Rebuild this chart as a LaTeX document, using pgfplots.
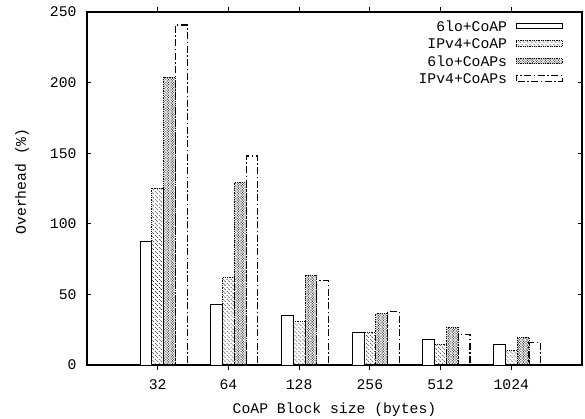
\documentclass[border=0pt]{standalone}
\usepackage{pgfplots}
\pgfplotsset{compat=1.18}
\usepackage{fontspec}
\setmainfont{Liberation Mono}
\usetikzlibrary{patterns,calc}
\pgfdeclarepatternformonly{densecross}{\pgfqpoint{-1pt}{-1pt}}{\pgfqpoint{4pt}{4pt}}{\pgfqpoint{2.6pt}{2.6pt}}{%
  \pgfsetlinewidth{0.35pt}%
  \pgfpathmoveto{\pgfqpoint{0pt}{0pt}}\pgfpathlineto{\pgfqpoint{2.61pt}{2.61pt}}%
  \pgfpathmoveto{\pgfqpoint{0pt}{2.6pt}}\pgfpathlineto{\pgfqpoint{2.61pt}{-0.01pt}}%
  \pgfusepath{stroke}}
\pgfdeclarepatternformonly{sparsedots}{\pgfqpoint{-1pt}{-1pt}}{\pgfqpoint{5pt}{5pt}}{\pgfqpoint{4pt}{4pt}}{%
  \pgfpathcircle{\pgfqpoint{0pt}{0pt}}{0.45pt}%
  \pgfpathcircle{\pgfqpoint{2pt}{2pt}}{0.45pt}%
  \pgfpathcircle{\pgfqpoint{1pt}{3pt}}{0.35pt}%
  \pgfusepath{fill}}
\newcommand\cfont{\fontsize{14.8}{17}\selectfont}
\pgfplotsset{boxlegend/.style={legend image code/.code={\draw[##1] (0bp,-2.5bp) rectangle (46bp,3bp);}}}
\begin{document}
\begin{tikzpicture}
\begin{axis}[
  name=ax,
  scale only axis,
  width=495bp, height=353bp,
  xmin=-1, xmax=6, ymin=0, ymax=250,
  xtick={0,1,2,3,4,5},
  xticklabels={32,64,128,256,512,1024},
  ytick={0,50,100,150,200,250},
  tick align=inside,
  major tick length=4.5bp,
  tick style={line width=0.8bp, black},
  axis line style={line width=1.3bp},
  /pgf/number format/assume math mode=true,
  tick label style={font=\cfont},
  yticklabel style={xshift=-7bp},
  xticklabel style={yshift=-7bp},
  xlabel={CoAP Block size (bytes)},
  ylabel={Overhead (\%)},
  label style={font=\cfont},
  xlabel style={at={(axis description cs:0.5,0)}, anchor=center, yshift=-45bp},
  ylabel style={at={(axis description cs:-0.1313,0.52)}, anchor=center},
  ybar, bar width=0.1667,
  legend cell align=right,
  legend plot pos=right,
  legend style={draw=none, fill=none, at={(1,1)}, anchor=north east, xshift=-19bp, yshift=-5.5bp,
    font=\cfont, inner sep=0pt, row sep=0.5bp,
    nodes={text height=10bp, text depth=0bp, inner sep=3.5bp}},
]
\addplot[draw=black, fill=white, line width=0.9bp, bar shift=-0.1667, boxlegend]
  coordinates {(0,87.3) (1,43) (2,35) (3,22.9) (4,18.4) (5,14.6)};
\addlegendentry{6lo+CoAP\kern5bp}
\addplot[draw=black, pattern=sparsedots, line width=0.8bp, densely dotted, bar shift=0, boxlegend]
  coordinates {(0,125) (1,62) (2,30.7) (3,22.9) (4,14.9) (5,10.6)};
\addlegendentry{IPv4+CoAP\kern5bp}
\addplot[draw=black, pattern=densecross, line width=0.8bp, densely dotted, bar shift=0.1667, boxlegend]
  coordinates {(0,203.7) (1,129.4) (2,63.7) (3,36.6) (4,26.7) (5,19.6)};
\addlegendentry{6lo+CoAPs\kern5bp}
\addplot[draw=black, fill=none, line width=1.2bp, dash pattern=on 7bp off 2.5bp on 1.5bp off 2.5bp, bar shift=0.3333, boxlegend]
  coordinates {(0,240.8) (1,148) (2,59.7) (3,37.8) (4,21.7) (5,15.8)};
\addlegendentry{IPv4+CoAPs\kern5bp}
\end{axis}
\pgfresetboundingbox
\path ($(ax.south west)+(-87bp,-54bp)$) rectangle ($(ax.north east)+(3bp,12bp)$);
\end{tikzpicture}
\end{document}
